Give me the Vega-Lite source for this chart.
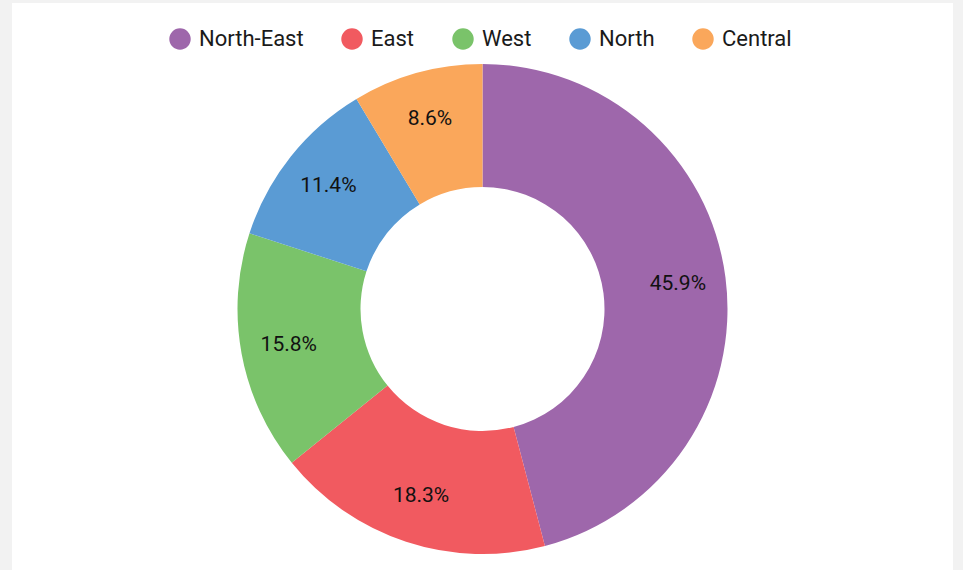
{
  "$schema": "https://vega.github.io/schema/vega-lite/v6.json",
  "width": 963,
  "height": 570,
  "autosize": {"type": "fit", "contains": "padding"},
  "padding": {"left": 12, "top": 3, "right": 10, "bottom": 0},
  "background": "#f2f2f2",
  "view": {"fill": "#ffffff", "stroke": null},
  "data": {
    "values": [
      {"region": "North-East", "share": 0.459, "order": 1},
      {"region": "East", "share": 0.183, "order": 2},
      {"region": "West", "share": 0.158, "order": 3},
      {"region": "North", "share": 0.114, "order": 4},
      {"region": "Central", "share": 0.086, "order": 5}
    ]
  },
  "encoding": {
    "theta": {"field": "share", "type": "quantitative", "stack": true},
    "order": {"field": "order", "type": "quantitative"},
    "color": {
      "field": "region",
      "type": "nominal",
      "scale": {
        "domain": ["North-East", "East", "West", "North", "Central"],
        "range": ["#9e67ab", "#f15a60", "#7ac36a", "#5a9bd4", "#faa75b"]
      },
      "legend": {
        "orient": "none",
        "direction": "horizontal",
        "legendX": 157,
        "legendY": 25,
        "title": null,
        "symbolType": "circle",
        "symbolSize": 460,
        "symbolStrokeWidth": 0,
        "symbolOpacity": 1,
        "labelFont": "Roboto",
        "labelFontSize": 22,
        "labelColor": "#1a1a1a",
        "labelOffset": 8,
        "columnPadding": 37,
        "padding": 0
      }
    }
  },
  "layer": [
    {
      "mark": {"type": "arc", "outerRadius": 245, "innerRadius": 122, "y": {"expr": "height/2 + 22.5"}, "stroke": null}
    },
    {
      "mark": {"type": "text", "radius": 197, "y": {"expr": "height/2 + 22.5"}, "font": "Roboto", "fontSize": 21, "baseline": "middle", "align": "center"},
      "encoding": {
        "text": {"field": "share", "type": "quantitative", "format": ".1%"},
        "color": {"value": "#111111"}
      }
    }
  ]
}
